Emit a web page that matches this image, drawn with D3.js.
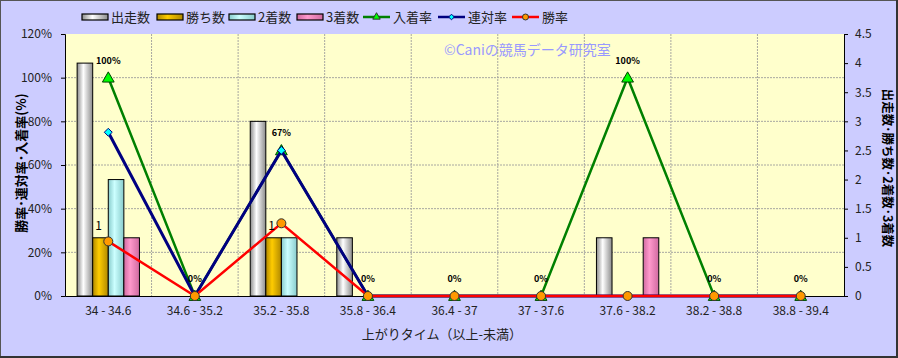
<!DOCTYPE html>
<head>
<meta charset="utf-8">
<style>
  body { margin: 0; background: #fff; }
  svg text { font-family: "Noto Sans CJK JP", "DejaVu Sans", sans-serif; }
</style>
<script src="https://cdn.jsdelivr.net/npm/d3@7"></script>
</head>
<body>
<script>
var categories = ["34 - 34.6", "34.6 - 35.2", "35.2 - 35.8", "35.8 - 36.4", "36.4 - 37",
                  "37 - 37.6", "37.6 - 38.2", "38.2 - 38.8", "38.8 - 39.4"];
var runs   = [4, 0, 3, 1, 0, 0, 1, 0, 0];   // 出走数
var wins   = [1, 0, 1, 0, 0, 0, 0, 0, 0];   // 勝ち数
var second = [2, 0, 1, 0, 0, 0, 0, 0, 0];   // 2着数
var third  = [1, 0, 0, 0, 0, 0, 1, 0, 0];   // 3着数
var placeRate = [100, 0, 66.7, 0, 0, 0, 100, 0, 0];  // 入着率
var rentaiRate = [75, 0, 66.7, 0, 0, 0, 0, 0, 0];    // 連対率
var winRate = [25, 0, 33.3, 0, 0, 0, 0, 0, 0];       // 勝率
var leftTicks = [0, 20, 40, 60, 80, 100, 120];
var rightTicks = [0, 0.5, 1, 1.5, 2, 2.5, 3, 3.5, 4, 4.5];

var W = 898, H = 358;
var m = {left: 65, right: 54, top: 34, bottom: 62};
var pw = W - m.left - m.right, ph = H - m.top - m.bottom;

var svg = d3.select("body").append("svg").attr("width", W).attr("height", H);
var defs = svg.append("defs");

function grad(id, edge, mid) {
  var g = defs.append("linearGradient").attr("id", id).attr("x1", 0).attr("x2", 1).attr("y1", 0).attr("y2", 0);
  g.append("stop").attr("offset", "0%").attr("stop-color", edge);
  g.append("stop").attr("offset", "40%").attr("stop-color", mid);
  g.append("stop").attr("offset", "100%").attr("stop-color", edge);
}
grad("gRun", "#8c8c8c", "#ffffff");
grad("gWin", "#b08800", "#ffcc00");
grad("gSec", "#88cccc", "#ccffff");
grad("gThi", "#d06aa0", "#ff99cc");

// background + frame
svg.append("rect").attr("x", 0.5).attr("y", 0.5).attr("width", W - 2).attr("height", H - 2)
  .attr("fill", "#ccccff").attr("stroke", "#555").attr("stroke-width", 1);
svg.append("line").attr("x1", W - 1).attr("x2", W - 1).attr("y1", 0).attr("y2", H).attr("stroke", "#333").attr("stroke-width", 2);
svg.append("line").attr("x1", 0).attr("x2", W).attr("y1", H - 1).attr("y2", H - 1).attr("stroke", "#333").attr("stroke-width", 2);

var g = svg.append("g").attr("transform", "translate(" + m.left + "," + m.top + ")");
g.append("rect").attr("width", pw).attr("height", ph).attr("fill", "#ffffcc");

var x = d3.scaleBand().domain(categories).range([0, pw]);
var yL = d3.scaleLinear().domain([0, 120]).range([ph, 0]);
var yR = d3.scaleLinear().domain([0, 4.5]).range([ph, 0]);
var barSeries = [
  {name: "出走数", vals: runs, fill: "url(#gRun)"},
  {name: "勝ち数", vals: wins, fill: "url(#gWin)"},
  {name: "2着数", vals: second, fill: "url(#gSec)"},
  {name: "3着数", vals: third, fill: "url(#gThi)"}
];
var inner = d3.scaleBand().domain(d3.range(4)).range([x.bandwidth() * 0.14, x.bandwidth() * 0.86]);

// grid
g.selectAll(".hg").data(leftTicks.slice(1, -1)).enter().append("line")
  .attr("x1", 0).attr("x2", pw).attr("y1", function(d) { return yL(d); }).attr("y2", function(d) { return yL(d); })
  .attr("stroke", "#a8a8a0").attr("stroke-dasharray", "2,1");
g.selectAll(".vg").data(categories.slice(1)).enter().append("line")
  .attr("x1", function(d) { return x(d); }).attr("x2", function(d) { return x(d); })
  .attr("y1", 0).attr("y2", ph)
  .attr("stroke", "#a8a8a0").attr("stroke-dasharray", "2,1");

// bars
barSeries.forEach(function(s, i) {
  s.vals.forEach(function(v, j) {
    if (v <= 0) return;
    g.append("rect")
      .attr("x", x(categories[j]) + inner(i))
      .attr("y", yR(v))
      .attr("width", inner.bandwidth())
      .attr("height", ph - yR(v))
      .attr("fill", s.fill).attr("stroke", "#000").attr("stroke-width", 1);
  });
});

// axes
var axL = g.append("g").call(d3.axisLeft(yL).tickValues(leftTicks).tickSize(4).tickFormat(function(d) { return d + "%"; }));
var axR = g.append("g").attr("transform", "translate(" + pw + ",0)")
  .call(d3.axisRight(yR).tickValues(rightTicks).tickSize(4).tickFormat(function(d) { return d; }));
var axB = g.append("g").attr("transform", "translate(0," + ph + ")")
  .call(d3.axisBottom(x).tickSize(0).tickPadding(10));
[axL, axR, axB].forEach(function(a) {
  a.selectAll("path,line").attr("stroke", "#000");
  a.selectAll("text").attr("font-size", 12).attr("fill", "#222");
});
axL.selectAll("text").attr("dx", -6);
axR.selectAll("text").attr("dx", 4);

// lines
var cx = function(j) { return x(categories[j]) + x.bandwidth() / 2; };
function drawLine(vals, color, width) {
  var line = d3.line().x(function(d, j) { return cx(j); }).y(function(d) { return yL(d); });
  g.append("path").attr("d", line(vals)).attr("fill", "none").attr("stroke", color).attr("stroke-width", width);
}
drawLine(placeRate, "#008000", 2.5);
placeRate.forEach(function(v, j) {
  g.append("path").attr("d", d3.symbol(d3.symbolTriangle, 60)())
    .attr("transform", "translate(" + cx(j) + "," + (yL(v) + 1) + ")")
    .attr("fill", "#00ff00").attr("stroke", "#004000").attr("stroke-width", 1);
});
drawLine(rentaiRate, "#000080", 3);
rentaiRate.forEach(function(v, j) {
  g.append("path").attr("d", d3.symbol(d3.symbolDiamond2, 40)())
    .attr("transform", "translate(" + cx(j) + "," + yL(v) + ")")
    .attr("fill", "#00ffff").attr("stroke", "#000080").attr("stroke-width", 1);
});
drawLine(winRate, "#ff0000", 2.5);
winRate.forEach(function(v, j) {
  g.append("circle").attr("cx", cx(j)).attr("cy", yL(v)).attr("r", 4.5)
    .attr("fill", "#ff9900").attr("stroke", "#333").attr("stroke-width", 1);
});

// data labels
placeRate.forEach(function(v, j) {
  g.append("text").attr("x", cx(j)).attr("y", yL(v) - 14).attr("text-anchor", "middle")
    .attr("font-size", 9).attr("font-weight", "bold").attr("fill", "#000")
    .text(Math.round(v) + "%");
});
wins.forEach(function(v, j) {
  if (v <= 0) return;
  g.append("text").attr("x", x(categories[j]) + inner(1) + inner.bandwidth() / 2 - 2).attr("y", yR(v) - 8)
    .attr("text-anchor", "middle").attr("font-size", 12).attr("fill", "#000").text(v);
});

// watermark
svg.append("text").attr("x", 444).attr("y", 55).attr("font-size", 14).attr("fill", "#9999ff")
  .text("©Caniの競馬データ研究室");

// axis titles
svg.append("text").attr("transform", "translate(26,163) rotate(-90)").attr("text-anchor", "middle")
  .attr("font-size", 13).attr("font-weight", "bold").attr("fill", "#000").text("勝率･連対率･入着率(%)");
svg.append("text").attr("transform", "translate(883,168) rotate(90)").attr("text-anchor", "middle")
  .attr("font-size", 12.5).attr("font-weight", "bold").attr("fill", "#000").text("出走数･勝ち数･2着数･3着数");
svg.append("text").attr("x", 442).attr("y", 339).attr("text-anchor", "middle")
  .attr("font-size", 13).attr("fill", "#222").text("上がりタイム（以上-未満）");

// legend
var leg = svg.append("g").attr("transform", "translate(0,17)");
var legItems = [
  {type: "bar", name: "出走数", fill: "url(#gRun)", x: 82},
  {type: "bar", name: "勝ち数", fill: "url(#gWin)", x: 157},
  {type: "bar", name: "2着数", fill: "url(#gSec)", x: 229},
  {type: "bar", name: "3着数", fill: "url(#gThi)", x: 297},
  {type: "tri", name: "入着率", color: "#008000", mfill: "#00ff00", x: 363},
  {type: "dia", name: "連対率", color: "#000080", mfill: "#00ffff", x: 438},
  {type: "cir", name: "勝率", color: "#ff0000", mfill: "#ff9900", x: 512}
];
legItems.forEach(function(it) {
  if (it.type === "bar") {
    leg.append("rect").attr("x", it.x).attr("y", -3).attr("width", 26).attr("height", 6)
      .attr("fill", it.fill).attr("stroke", "#000").attr("stroke-width", 1.2);
  } else {
    leg.append("line").attr("x1", it.x).attr("x2", it.x + 27).attr("y1", 0).attr("y2", 0)
      .attr("stroke", it.color).attr("stroke-width", 2.5);
    var mk;
    if (it.type === "tri") mk = leg.append("path").attr("d", d3.symbol(d3.symbolTriangle, 24)());
    else if (it.type === "dia") mk = leg.append("path").attr("d", d3.symbol(d3.symbolDiamond2, 20)());
    else mk = leg.append("path").attr("d", d3.symbol(d3.symbolCircle, 28)());
    mk.attr("transform", "translate(" + (it.x + 13.5) + ",0)")
      .attr("fill", it.mfill).attr("stroke", it.type === "dia" ? "#000080" : "#333").attr("stroke-width", 1);
  }
  leg.append("text").attr("x", it.x + (it.type === "bar" ? 29 : 30)).attr("y", 5)
    .attr("font-size", 13).attr("fill", "#222").text(it.name);
});
</script>
</body>
</html>
